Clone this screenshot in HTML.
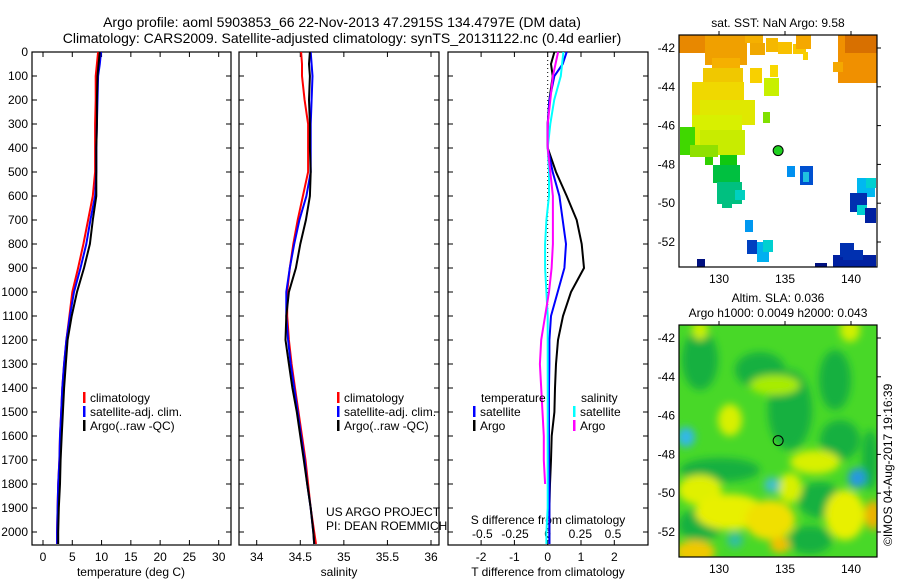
<!DOCTYPE html>
<html><head><meta charset="utf-8"><style>
html,body{margin:0;padding:0;background:#fff}
svg{display:block;font-family:"Liberation Sans",sans-serif}
text{font-size:12px;fill:#000}
</style></head><body>
<svg id="c" width="900" height="580" viewBox="0 0 900 580" xmlns="http://www.w3.org/2000/svg">
<defs><filter id="blur" x="-20%" y="-20%" width="140%" height="140%"><feGaussianBlur stdDeviation="4"/></filter>
<clipPath id="m2clip"><rect x="679" y="325" width="198" height="232"/></clipPath>
<clipPath id="m1clip"><rect x="679" y="35" width="198" height="232"/></clipPath></defs>
<text x="342" y="27" text-anchor="middle" style="font-size:14px">Argo profile: aoml 5903853_66 22-Nov-2013 47.2915S 134.4797E (DM data)</text>
<text x="342" y="43" text-anchor="middle" style="font-size:14px">Climatology: CARS2009. Satellite-adjusted climatology: synTS_20131122.nc (0.4d earlier)</text>
<text x="778" y="27" text-anchor="middle">sat. SST: NaN Argo: 9.58</text>
<text x="778" y="302" text-anchor="middle">Altim. SLA: 0.036</text>
<text x="778" y="317" text-anchor="middle">Argo h1000: 0.0049 h2000: 0.043</text>
<text transform="translate(892,546) rotate(-90)">©IMOS 04-Aug-2017 19:16:39</text>
<g id="g"></g>
</svg>
<script>
// ---- data ----
const depths = [0,50,100,200,300,400,500,600,700,800,900,1000,1100,1200,1300,1400,1500,1600,1700,1800,1900,2000,2050];
const tempArgo = [9.7,9.5,9.3,9.2,9.2,9.1,9.1,9.1,8.5,8.0,7.0,5.8,4.9,4.2,3.9,3.6,3.4,3.2,3.0,2.9,2.7,2.6,2.6];
const tempClim = [9.4,9.2,9.0,9.0,8.9,8.9,8.9,8.5,7.7,6.9,6.0,5.0,4.5,4.0,3.6,3.3,3.1,2.9,2.8,2.6,2.5,2.4,2.4];
const tempSat = [9.9,9.7,9.4,9.3,9.2,9.1,9.1,8.9,8.1,7.4,6.4,5.3,4.6,4.0,3.6,3.3,3.1,2.9,2.8,2.6,2.5,2.4,2.4];
const salArgo = [34.61,34.60,34.61,34.60,34.61,34.61,34.62,34.61,34.565,34.50,34.45,34.37,34.34,34.33,34.37,34.41,34.46,34.50,34.54,34.58,34.62,34.65,34.66];
const salClim = [34.51,34.52,34.52,34.55,34.59,34.59,34.59,34.53,34.47,34.42,34.38,34.35,34.35,34.37,34.40,34.44,34.48,34.52,34.56,34.59,34.62,34.66,34.68];
const salSat = [34.62,34.63,34.64,34.63,34.62,34.62,34.62,34.57,34.49,34.43,34.38,34.34,34.34,34.36,34.39,34.43,34.47,34.51,34.55,34.58,34.62,34.65,34.66];
const dTArgo = [0.2,0.1,0.15,0.05,0.0,0.0,0.25,0.57,0.87,1.02,1.09,0.7,0.46,0.31,0.25,0.22,0.2,0.12,0.1,0.07,0.05,0.05,0.05];
const dTSat = [0.57,0.45,0.2,0.05,0.0,0.0,0.15,0.35,0.45,0.55,0.5,0.3,0.1,0.05,0.05,0.04,0.04,0.04,0.04,0.05,0.05,0.05,0.05];
const dSSat = [0.12,0.11,0.1,0.05,0.02,0.0,0.01,0.01,-0.01,-0.02,-0.02,-0.01,0.0,0.0,0.0,0.0,0.0,0.0,0.0,0.0,0.0,-0.01,-0.01];
const dSArgo = [0.08,0.06,0.04,0.02,0.0,0.0,0.02,0.04,0.04,0.04,0.03,0.01,-0.02,-0.05,-0.06,-0.05,-0.04,-0.03,-0.03,-0.02,-0.02,-0.02,-0.02];
const depthTicks = [0,100,200,300,400,500,600,700,800,900,1000,1100,1200,1300,1400,1500,1600,1700,1800,1900,2000];
const tempTicks = [0,5,10,15,20,25,30];
const salTicks = [34,34.5,35,35.5,36];
const dTTicks = [-2,-1,0,1,2];
const dSTicks = [-0.5,-0.25,0,0.25,0.5];
const lonTicks = [130,135,140];
const latTicks = [-42,-44,-46,-48,-50,-52];

const NS="http://www.w3.org/2000/svg";
const G=document.getElementById('g');
function mk(tag,attrs,parent){const e=document.createElementNS(NS,tag);for(const k in attrs)e.setAttribute(k,attrs[k]);(parent||G).appendChild(e);return e;}
function txt(x,y,s,anchor,parent){const t=mk('text',{x:x,y:y,'text-anchor':anchor||'start'},parent);t.textContent=s;return t;}
const TOP=52,BOT=545;
const yD=d=>TOP+(532-TOP)*d/2000;
function lin(d0,d1,p0,p1){return v=>p0+(v-d0)*(p1-p0)/(d1-d0);}
const xT=lin(0,30,43,218.7), xS=lin(34,36,256.7,431), xdT=lin(0,2,547.7,614.3), xdS=lin(0,0.5,547.7,613);
function panel(x0,x1,name){const r=mk('rect',{x:x0,y:TOP,width:x1-x0,height:BOT-TOP,fill:'none',stroke:'#000','stroke-width':1.2});


depthTicks.forEach(d=>{mk('line',{x1:x0,x2:x0+5,y1:yD(d),y2:yD(d),stroke:'#000'});mk('line',{x1:x1-5,x2:x1,y1:yD(d),y2:yD(d),stroke:'#000'});});}
function xticks(vals,f,x0,x1,labelY,fmt){vals.forEach(v=>{const x=f(v);mk('line',{x1:x,x2:x,y1:TOP,y2:TOP+5,stroke:'#000'});mk('line',{x1:x,x2:x,y1:BOT-5,y2:BOT,stroke:'#000'});
const t=txt(x,labelY,fmt?fmt(v):String(v),'middle');

});}
function line(vals,f,color,name,n){const pts=vals.slice(0,n||vals.length).map((v,i)=>f(v).toFixed(1)+','+yD(depths[i]).toFixed(1)).join(' ');
const p=mk('polyline',{points:pts,fill:'none',stroke:color,'stroke-width':2});

}
panel(32,231,'temperature-panel');panel(239,439,'salinity-panel');panel(448,648,'difference-panel');
depthTicks.forEach(d=>{const t=txt(28,yD(d)+4,String(d),'end');

});
xticks(tempTicks,xT,32,231,561);
xticks(salTicks,xS,239,439,561);
xticks(dTTicks,xdT,448,648,561);
dSTicks.forEach(v=>{const t=txt(xdS(v),538,String(v),'middle');

});
[['temperature (deg C)',131],['salinity',339],['T difference from climatology',548]].forEach(a=>{const t=txt(a[1],576,a[0],'middle');

});
const st=txt(548,524,'S difference from climatology','middle');


const z=mk('line',{x1:xdT(0),x2:xdT(0),y1:TOP,y2:BOT,stroke:'#000','stroke-dasharray':'1,3'});


line(tempClim,xT,'#f00','temp-climatology');line(tempSat,xT,'#00f','temp-satellite');line(tempArgo,xT,'#000','temp-argo');
line(salClim,xS,'#f00','sal-climatology');line(salSat,xS,'#00f','sal-satellite');line(salArgo,xS,'#000','sal-argo');
line(dTArgo,xdT,'#000','tdiff-argo');line(dTSat,xdT,'#00f','tdiff-satellite');line(dSSat,xdS,'#0ff','sdiff-satellite');line(dSArgo,xdS,'#f0f','sdiff-argo',20);
function legend(x,y,items){items.forEach((it,i)=>{mk('rect',{x:x,y:y+i*14-10,width:2.5,height:11,fill:it[0]});const t=txt(x+7,y+i*14,it[1]);

});}
legend(83,402,[['#f00','climatology'],['#00f','satellite-adj. clim.'],['#000','Argo(..raw -QC)']]);
legend(337,402,[['#f00','climatology'],['#00f','satellite-adj. clim.'],['#000','Argo(..raw -QC)']]);
txt(481,402,'temperature');txt(581,402,'salinity');
legend(473,416,[['#00f','satellite'],['#000','Argo']]);
legend(573,416,[['#0ff','satellite'],['#f0f','Argo']]);
txt(326,516,'US ARGO PROJECT');txt(326,530,'PI: DEAN ROEMMICH');
// maps
const xLon=lin(130,140,719,851), yLat=lin(-42,-52,48,242);
const g1=mk('g',{'clip-path':'url(#m1clip)'});


const sst=[[679,35,28,18,'#e88800'],[705,35,42,30,'#f0a000'],[712,58,28,10,'#f5b000'],[745,35,18,8,'#f5b000'],[750,43,15,12,'#f0a800'],[766,38,12,14,'#f5b800'],[778,42,14,12,'#f8c000'],[793,44,13,10,'#f8c800'],[796,35,15,14,'#f5a800'],[803,52,5,8,'#f8d000'],[838,35,39,48,'#f09000'],[845,35,32,18,'#d87000'],[833,62,10,10,'#f5a800'],[750,68,12,15,'#f8d000'],[770,65,8,12,'#f8d800'],[764,78,15,18,'#c8f000'],[763,112,7,11,'#80e000'],
[703,68,40,25,'#f0c800'],[692,82,52,35,'#f0d800'],[700,100,55,25,'#e0e800'],[692,115,50,30,'#d8f000'],[700,130,45,25,'#c8ec00'],[680,127,15,28,'#40d800'],[690,145,28,12,'#90e000'],[705,157,8,8,'#30d000'],[720,155,17,12,'#10c810'],[713,165,27,18,'#00c040'],[717,182,25,22,'#00c080'],[735,190,10,10,'#00d0c0'],[722,200,10,8,'#00c080'],
[787,166,8,11,'#0090f0'],[800,166,13,19,'#0050d0'],[803,172,6,10,'#20c0e0'],[857,178,18,19,'#00b8f0'],[866,178,10,10,'#00d0d0'],[850,193,17,19,'#0030b0'],[857,205,10,10,'#00d0d0'],[865,208,11,15,'#0020a0'],[745,220,8,12,'#0098f0'],[747,240,10,14,'#0040c0'],[757,242,12,20,'#00b0f0'],[763,240,10,12,'#00d0d0'],[697,259,8,8,'#001080'],[815,263,12,4,'#001080'],[833,255,43,12,'#0020a0'],[840,243,14,14,'#0030b0'],[843,250,20,10,'#0030b0']];
sst.forEach(b=>mk('rect',{x:b[0],y:b[1],width:b[2],height:b[3],fill:b[4]},g1));
const g2=mk('g',{'clip-path':'url(#m2clip)'});


mk('rect',{x:679,y:325,width:198,height:232,fill:'#48d828'},g2);
const gb=mk('g',{filter:'url(#blur)'},g2);
const blobs=[[700,360,18,30,'#18b040'],[760,370,25,18,'#18b040'],[835,380,16,30,'#18b040'],[790,410,22,40,'#18b040'],[840,440,20,20,'#18b040'],[720,470,40,12,'#18b040'],[820,500,22,18,'#18b040'],[700,525,22,16,'#18b040'],[810,540,22,14,'#18b040'],[870,460,8,30,'#18b040'],
[730,420,12,16,'#d8f000'],[775,385,25,10,'#a8ec00'],[700,490,22,15,'#e0f000'],[815,462,25,12,'#d8f000'],[790,488,12,15,'#d8f000'],[730,512,35,18,'#e8f000'],[770,520,25,20,'#f0e000'],[845,515,20,25,'#e8f000'],[873,515,8,15,'#f0b000'],[695,552,20,12,'#f0c800'],[780,545,10,8,'#f0c000'],[700,330,8,10,'#c8f000'],[850,330,10,12,'#d0f000'],
[686,437,9,10,'#30b8e8'],[772,485,8,8,'#40c0c8'],[857,478,9,10,'#2898e0'],[735,540,8,8,'#30c0a0']];
blobs.forEach(b=>mk('ellipse',{cx:b[0],cy:b[1],rx:b[2],ry:b[3],fill:b[4]},gb));
[[35,'sst'],[325,'sla']].forEach(m=>{const top=m[0],off=top-35;
const r=mk('rect',{x:679,y:top,width:198,height:232,fill:'none',stroke:'#000','stroke-width':1.2});


lonTicks.forEach(v=>{const x=xLon(v);mk('line',{x1:x,x2:x,y1:top-4,y2:top,stroke:'#000'});const t=txt(x,top+232+16,String(v),'middle');

});
latTicks.forEach(v=>{const y=yLat(v)+off;mk('line',{x1:877,x2:881,y1:y,y2:y,stroke:'#000'});const t=txt(675,y+4,String(v),'end');

});
const c=mk('circle',{cx:xLon(134.48),cy:yLat(-47.29)+off,r:5,fill:m[1]=='sst'?'#20d020':'none',stroke:'#000','stroke-width':1});

});
</script>
</body></html>
